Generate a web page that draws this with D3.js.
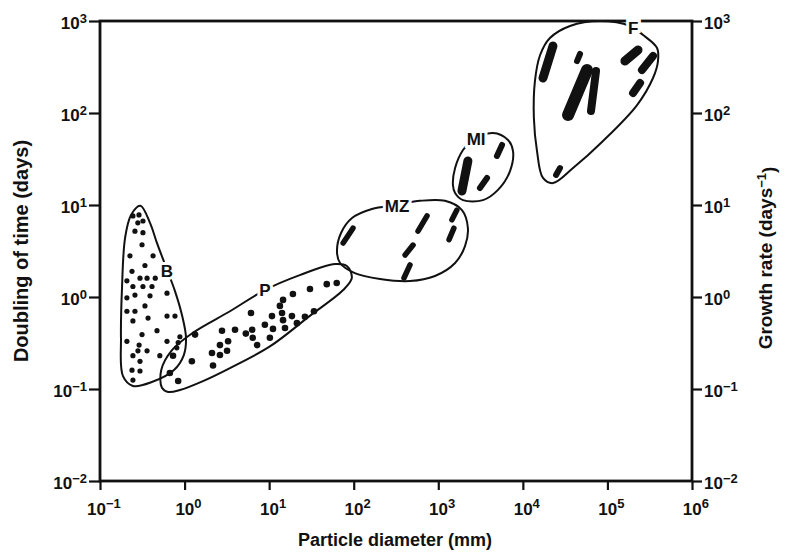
<!DOCTYPE html>
<meta charset="utf-8">
<style>
    body { margin: 0; background: #fff; }
    text { font-family: "Liberation Sans", Arial, sans-serif; fill: #111; font-weight: bold; }
    .frame { fill: none; stroke: #111; stroke-width: 2.8px; }
    .axis path { display: none; }
    .axis line { stroke: #111; stroke-width: 2.2px; }
    .axis text { font-size: 17px; }
    .hull { fill: none; stroke: #111; stroke-width: 2px; }
    .grp { font-size: 17px; stroke: #fff; stroke-width: 6px; paint-order: stroke; }
</style>
<svg id="mainSVG" width="790" height="553"></svg>
<script src="https://d3js.org/d3.v7.min.js"></script>
<script>
// decades on each axis
var xTicks = [1e-1, 1e0, 1e1, 1e2, 1e3, 1e4, 1e5, 1e6];
var yTicks = [1e-2, 1e-1, 1e0, 1e1, 1e2, 1e3];

// bacteria (B): [diameter mm, doubling time days]
var bDots = [
    [0.245, 7.6], [0.289, 7.8], [0.322, 6.7], [0.28, 6.4], [0.259, 5.2], [0.322, 5.0],
    [0.314, 3.7], [0.226, 2.8], [0.424, 2.8], [0.34, 2.2], [0.239, 1.9], [0.297, 1.6],
    [0.36, 1.6], [0.45, 1.6], [0.208, 1.5], [0.245, 1.3], [0.322, 1.3], [0.412, 1.3],
    [0.208, 0.98], [0.259, 1.05], [0.39, 1.03], [0.62, 1.1], [0.34, 0.8], [0.208, 0.7],
    [0.259, 0.7], [0.245, 0.55], [0.37, 0.59], [0.62, 0.62], [0.77, 0.62], [0.314, 0.39],
    [0.472, 0.43], [0.208, 0.33], [0.245, 0.23], [0.281, 0.26], [0.297, 0.2], [0.36, 0.26],
    [0.51, 0.23], [0.62, 0.33], [0.88, 0.37], [0.239, 0.16], [0.297, 0.157], [0.245, 0.125],
    [0.81, 0.28], [0.84, 0.32], [0.29, 0.3]
];

// phytoplankton (P)
var pDots = [
    [0.67, 0.149], [0.84, 0.122], [0.73, 0.23], [1.33, 0.39], [1.22, 0.2], [2.17, 0.18],
    [2.11, 0.246], [2.62, 0.3], [2.62, 0.234], [3.18, 0.26], [3.27, 0.33], [2.77, 0.43],
    [3.95, 0.44], [5.3, 0.4], [6.3, 0.44], [6.4, 0.36], [7.2, 0.3], [6.1, 0.67],
    [8.9, 0.5], [10.2, 0.36], [11.1, 0.45], [10.8, 0.62], [13.4, 0.8], [14.2, 0.67],
    [14.6, 0.56], [15.4, 0.46], [14.6, 0.93], [19.1, 1.08], [18.6, 0.62], [21.3, 0.52],
    [26.5, 0.61], [30.4, 1.22], [33.9, 0.7], [48, 1.38], [63, 1.42]
];

// elongated marks: [x1, y1, x2, y2]
var mzMarks = [
    [75, 3.86, 98, 5.6], [576, 5.2, 736, 7.6], [405, 2.86, 503, 3.67],
    [393, 1.61, 463, 2.23], [1450, 6.9, 1660, 8.8], [1340, 4.2, 1530, 5.6]
];
var miMarks = [
    [2240, 30.1, 1905, 14.2], [5670, 44.9, 4940, 34.1], [3770, 19.7, 3110, 15.3]
];
var fMarks = [
    [22700, 535, 17300, 240], [47400, 438, 43700, 367], [57300, 293, 34200, 95],
    [73300, 286, 63900, 105], [230000, 484, 161000, 367], [346000, 417, 256000, 293],
    [243000, 212, 201000, 165], [27500, 25.2, 24700, 21.2]
];

// group outlines
var bHull = [[0.30, 9.8], [0.39, 6.4], [0.47, 3.9], [0.59, 2.23], [0.77, 1.16], [0.93, 0.64],
    [1.04, 0.36], [0.98, 0.234], [0.75, 0.161], [0.41, 0.119], [0.245, 0.108], [0.187, 0.138],
    [0.177, 0.36], [0.182, 1.25], [0.198, 4.4], [0.233, 7.8]];
var pHull = [[0.54, 0.103], [0.53, 0.161], [0.71, 0.265], [1.26, 0.41], [3.44, 0.70], [8.9, 1.19],
    [23, 1.73], [60, 2.28], [83, 2.17], [95, 1.61], [75, 1.19], [30, 0.62], [10.2, 0.29],
    [3.44, 0.169], [1.65, 0.122], [0.88, 0.0975], [0.64, 0.093]];
var mzHull = [[63.4, 3.16], [70.8, 4.96], [95.5, 7.22], [164, 9.05], [325, 10.0], [608, 11.1],
    [1200, 11.1], [1905, 8.8], [2240, 5.6], [2070, 3.58], [1580, 2.34], [914, 1.69],
    [463, 1.49], [205, 1.57], [103, 1.82], [68.9, 2.34]];
var miHull = [[1490, 16.5], [1580, 25.2], [1960, 39.6], [2570, 50.9], [4440, 60.6], [6670, 50.9],
    [7650, 38.6], [7050, 23.4], [5080, 14.6], [3380, 11.3], [1960, 11.3], [1580, 13.5]];
var fHull = [[81700, 1000], [185000, 883], [264000, 704], [386000, 509], [396000, 367],
    [346000, 240], [224000, 122], [88700, 49.6], [39200, 25.2], [22700, 17.3], [17300, 19.7],
    [14700, 38.6], [13500, 88.2], [13900, 223], [16000, 427], [20900, 653], [36100, 883]];

var groupNames = ["B", "P", "MZ", "MI", "F"];
var groupLabelPos = [[0.62, 1.92], [8.9, 1.19], [325, 9.75], [2800, 52], [201000, 840]];

var svg = d3.select("svg");
var plotLeft = 100, plotRight = 692, plotTop = 21, plotBottom = 481;

var x = d3.scaleLog().domain([1e-1, 1e6]).range([plotLeft, plotRight]);
var y = d3.scaleLog().domain([1e-2, 1e3]).range([plotBottom, plotTop]);

function supLabel(sel, v) {
    var e = Math.round(Math.log10(v));
    sel.text("");
    sel.append("tspan").text("10");
    sel.append("tspan").attr("dy", "-0.5em").style("font-size", "13px")
        .text(e < 0 ? "\u2212" + (-e) : e);
}

var gx = svg.append("g").attr("class", "axis")
    .attr("transform", "translate(0," + plotBottom + ")")
    .call(d3.axisBottom(x).tickValues(xTicks).tickSize(9).tickPadding(5).tickFormat(""));
gx.selectAll(".tick text").each(function (d) { supLabel(d3.select(this), d); })
    .attr("dy", "1.15em").attr("dx", "0.2em");

var gy = svg.append("g").attr("class", "axis")
    .attr("transform", "translate(" + plotLeft + ",0)")
    .call(d3.axisLeft(y).tickValues(yTicks).tickSize(11).tickPadding(2).tickFormat(""));
gy.selectAll(".tick text").each(function (d) { supLabel(d3.select(this), d); })
    .attr("dy", "0.45em");

var gy2 = svg.append("g").attr("class", "axis")
    .attr("transform", "translate(" + plotRight + ",0)")
    .call(d3.axisRight(y).tickValues(yTicks).tickSize(10).tickPadding(2).tickFormat(""));
gy2.selectAll(".tick text").each(function (d) { supLabel(d3.select(this), d); })
    .attr("dy", "0.45em");

svg.append("rect").attr("class", "frame")
    .attr("x", plotLeft).attr("y", plotTop)
    .attr("width", plotRight - plotLeft).attr("height", plotBottom - plotTop);

// outlines
var hull = d3.line()
    .x(function (d) { return x(d[0]); })
    .y(function (d) { return y(d[1]); })
    .curve(d3.curveCatmullRomClosed.alpha(0.5));

svg.append("g").selectAll("path")
    .data([bHull, pHull, mzHull, miHull, fHull])
    .enter().append("path")
    .attr("class", "hull")
    .attr("d", hull);

// dots
svg.append("g").selectAll("circle")
    .data(bDots)
    .enter().append("circle")
    .attr("cx", function (d) { return x(d[0]); })
    .attr("cy", function (d) { return y(d[1]); })
    .attr("r", 2.6)
    .attr("fill", "#111");

svg.append("g").selectAll("circle")
    .data(pDots)
    .enter().append("circle")
    .attr("cx", function (d) { return x(d[0]); })
    .attr("cy", function (d) { return y(d[1]); })
    .attr("r", 3.3)
    .attr("fill", "#111");

// elongated marks as thick round-capped strokes
function drawMarks(data, widths) {
    svg.append("g").selectAll("line")
        .data(data)
        .enter().append("line")
        .attr("x1", function (d) { return x(d[0]); })
        .attr("y1", function (d) { return y(d[1]); })
        .attr("x2", function (d) { return x(d[2]); })
        .attr("y2", function (d) { return y(d[3]); })
        .attr("stroke", "#111")
        .attr("stroke-linecap", "round")
        .attr("stroke-width", function (d, i) { return widths[i]; });
}
drawMarks(mzMarks, [5.5, 5.5, 5.5, 5.5, 5.5, 5.5]);
drawMarks(miMarks, [9, 6, 6]);
drawMarks(fMarks, [9, 6, 12, 8, 9, 8, 8, 6]);

// group labels sit on the outline
svg.append("g").selectAll("text")
    .data(groupNames)
    .enter().append("text")
    .attr("class", "grp")
    .attr("x", function (d, i) { return x(groupLabelPos[i][0]); })
    .attr("y", function (d, i) { return y(groupLabelPos[i][1]); })
    .attr("dy", "0.36em")
    .attr("text-anchor", "middle")
    .text(function (d) { return d; });

// axis titles
svg.append("text")
    .attr("x", 395).attr("y", 546)
    .attr("text-anchor", "middle").style("font-size", "18px")
    .text("Particle diameter (mm)");

svg.append("text")
    .attr("transform", "translate(28," + 251 + ") rotate(-90)")
    .attr("text-anchor", "middle").style("font-size", "20px")
    .text("Doubling of time (days)");

var rt = svg.append("text")
    .attr("transform", "translate(772," + 258 + ") rotate(-90)")
    .attr("text-anchor", "middle").style("font-size", "19px");
rt.append("tspan").text("Growth rate (days");
rt.append("tspan").attr("dy", "-0.5em").style("font-size", "13px").text("\u22121");
rt.append("tspan").attr("dy", "0.5em").text(")");
</script>
